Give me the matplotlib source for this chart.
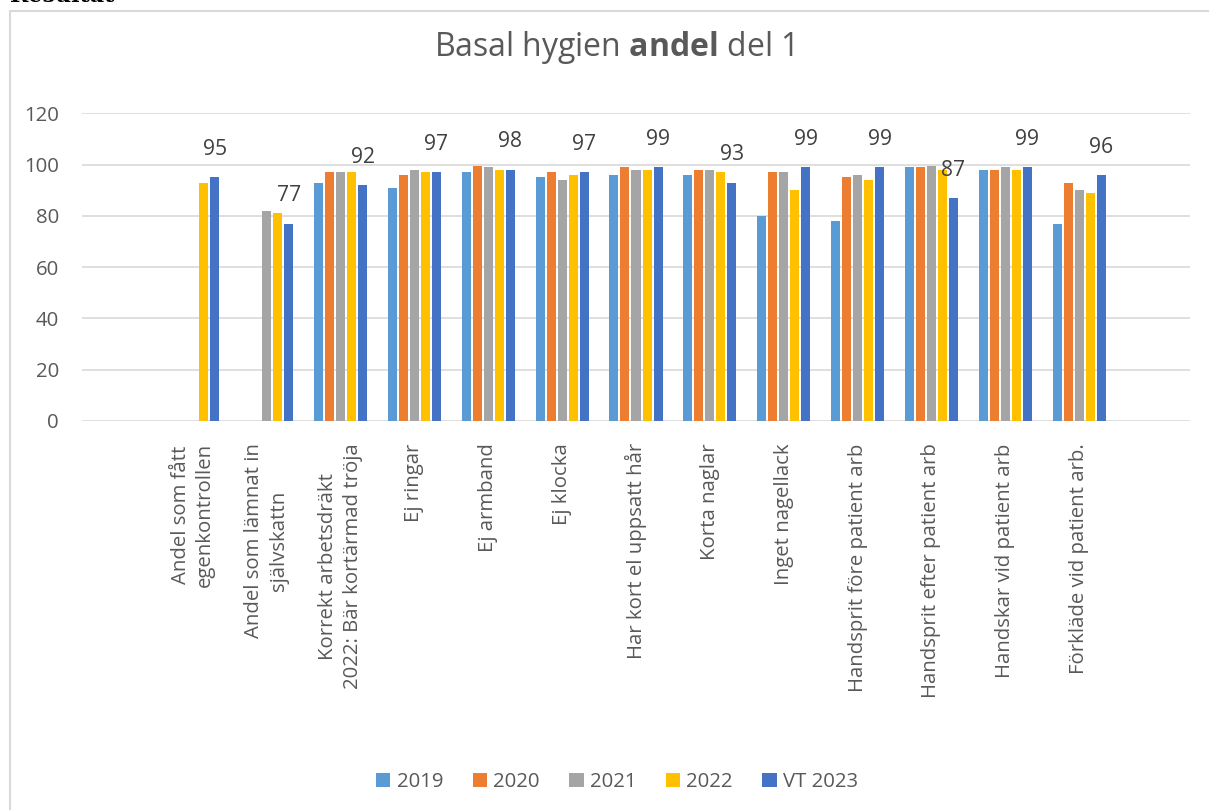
import numpy as np
import matplotlib
matplotlib.use("Agg")
from matplotlib import pyplot as plt
from matplotlib.patches import Rectangle

plt.rcParams['font.family'] = ['Open Sans', 'DejaVu Sans']
plt.rcParams['mathtext.fontset'] = 'custom'
plt.rcParams['mathtext.rm'] = 'Open Sans'
plt.rcParams['mathtext.bf'] = 'Open Sans:bold'

categories = [
    "Andel som fått\negenkontrollen",
    "Andel som lämnat in\nsjälvskattn",
    "Korrekt arbetsdräkt\n2022: Bär kortärmad tröja",
    "Ej ringar",
    "Ej armband",
    "Ej klocka",
    "Har kort el uppsatt hår",
    "Korta naglar",
    "Inget nagellack",
    "Handsprit före patient arb",
    "Handsprit efter patient arb",
    "Handskar vid patient arb",
    "Förkläde vid patient arb.",
]
series_names = ["2019", "2020", "2021", "2022", "VT 2023"]
nan = np.nan
v2019 = [nan, nan, 93, 91, 97, 95, 96, 96, 80, 78, 99, 98, 77]
v2020 = [nan, nan, 97, 96, 99.5, 97, 99, 98, 97, 95, 99, 98, 93]
v2021 = [nan, 82, 97, 98, 99, 94, 98, 98, 97, 96, 99.5, 99, 90]
v2022 = [93, 81, 97, 97, 98, 96, 98, 97, 90, 94, 98, 98, 89]
vt2023 = [95, 77, 92, 97, 98, 97, 99, 93, 99, 99, 87, 99, 96]
colors = ["#5B9BD5", "#ED7D31", "#A5A5A5", "#FFC000", "#4472C4"]

W, H = 1209, 810
fs = 14.7
fig = plt.figure(figsize=(W / 100, H / 100), dpi=100)
ax = fig.add_axes([82 / W, 1 - 421 / H, (1190 - 82) / W, (421 - 113.3) / H])

x = np.arange(len(categories))
step = 0.149
width = 0.122
all_vals = [v2019, v2020, v2021, v2022, vt2023]
for i, (name, vals, c) in enumerate(zip(series_names, all_vals, colors)):
    pos = x + (i - 2) * step
    ax.bar(pos, np.array(vals, dtype=float), width=width, color=c, label=name, zorder=3)

# data labels only on the last series
for xi, v in zip(x + 2 * step, vt2023):
    ax.annotate(f"{v:g}", (xi, v), xytext=(0, 20), textcoords="offset points",
                ha="center", va="center", fontsize=15.2, color="#404040")

ax.set_xlim(-1.5, 13.5)
ax.set_ylim(0, 120)
ax.set_yticks(range(0, 121, 20))
ax.yaxis.grid(True, color="#d9d9d9", lw=1.2, zorder=0)
ax.set_axisbelow(True)
for s in ax.spines.values():
    s.set_visible(False)
ax.tick_params(axis="both", length=0, labelsize=fs, labelcolor="#595959")
ax.tick_params(axis="y", pad=16.5)
ax.tick_params(axis="x", pad=16)
ax.set_xticks(x)
ax.set_xticklabels(categories, rotation=90, ha="center", va="top",
                   multialignment="center", linespacing=1.3)

fig.text(614 / W, 1 - 47 / H, r"Basal hygien $\bf{andel}$ del 1", ha="center", va="center",
         fontsize=23, color="#595959")

leg = fig.legend(loc="center", bbox_to_anchor=(617 / W, 1 - 782 / H), ncol=5, frameon=False,
                 fontsize=fs, handlelength=0.7, handleheight=0.7, handletextpad=0.3,
                 columnspacing=1.45)
for t in leg.get_texts():
    t.set_color("#595959")

# chart frame and cropped heading above it
fig.add_artist(Rectangle((10 / W, -0.1), 1.2, 1.1 - 11 / H, transform=fig.transFigure,
                         fill=False, edgecolor="#d9d9d9", lw=1.5))
fig.text(10 / W, 1 - 1.5 / H, "Resultat", ha="left", va="baseline", fontsize=16,
         family="DejaVu Serif", weight="bold", color="black")

fig.savefig("out.png", dpi=100)
